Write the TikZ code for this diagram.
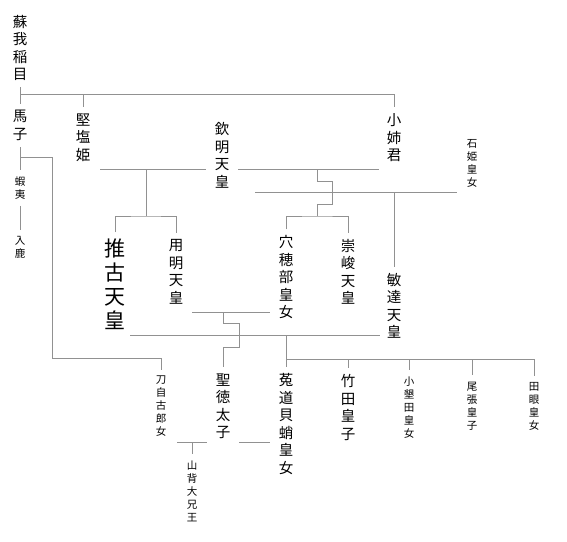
\documentclass[tikz,border=0pt]{standalone}
\usepackage{fontspec}
\usepackage{tikz}
\usetikzlibrary{backgrounds}
\newfontfamily\jp{Noto Sans CJK JP}
\definecolor{linegray}{RGB}{145,145,145}

\begin{document}
\begin{tikzpicture}[x = 1pt, y = -1pt, line width = 1pt,
                        person/.style = {align = center, inner xsep = 1pt, inner ysep = 6pt,
                                         font = \jp\fontsize{14.5}{17.5}\selectfont},
                        minor/.style = {person, font = \jp\fontsize{10.5}{13}\selectfont},
                        major/.style = {person, font = \jp\fontsize{21}{24}\selectfont},
                        masked/.style = {fill = white, inner xsep = 9pt},
                        link/.style = {draw = linegray}]
      \useasboundingbox (0, 0) rectangle (567, 541);

      % people
      \node [person] (inamo) at (20, 48){蘇\\我\\稲\\目};
      \node [person] (umako) at (20, 125.5){馬\\子};
      \node [person] (kitashi) at (83, 137.5){堅\\塩\\姫};
      \node [person, masked] (kinmei) at (222, 155.5){欽\\明\\天\\皇};
      \node [person] (oane) at (394, 138){小\\姉\\君};
      \node [minor] (ishihime) at (472, 163){石\\姫\\皇\\女};
      \node [minor] (emishi) at (20, 188){蝦\\夷};
      \node [minor] (iruka) at (20, 247){入\\鹿};
      \node [major] (suiko) at (115, 284){推\\古\\天\\皇};
      \node [person] (yomei) at (176, 272){用\\明\\天\\皇};
      \node [person] (anahobe) at (286, 277.5){穴\\穂\\部\\皇\\女};
      \node [person] (sushun) at (348, 272){崇\\峻\\天\\皇};
      \node [person] (bidatsu) at (394, 306){敏\\達\\天\\皇};
      \node [minor] (tojiko) at (161, 406.5){刀\\自\\古\\郎\\女};
      \node [person, masked] (shotoku) at (223, 406.5){聖\\徳\\太\\子};
      \node [person] (uji) at (286, 424){菟\\道\\貝\\蛸\\皇\\女};
      \node [person] (takeda) at (348, 407.5){竹\\田\\皇\\子};
      \node [minor] (oharida) at (409, 407.5){小\\墾\\田\\皇\\女};
      \node [minor] (owari) at (472, 406){尾\\張\\皇\\子};
      \node [minor] (tame) at (534, 406.5){田\\眼\\皇\\女};
      \node [minor] (yamashiro) at (192, 491){山\\背\\大\\兄\\王};

      % junctions
      \coordinate (rootbar) at (20, 94);
      \coordinate (umabr) at (20, 157);
      \coordinate (umadown) at (52, 358);
      \coordinate (wed1l) at (100, 169);
      \coordinate (wed1r) at (379, 169);
      \coordinate (kids1) at (146, 216);
      \coordinate (kids2) at (317, 216);
      \coordinate (wed2l) at (255, 192);
      \coordinate (wed2r) at (457, 192);
      \coordinate (wed3l) at (192, 312);
      \coordinate (wed3r) at (270, 312);
      \coordinate (wed4l) at (130, 335);
      \coordinate (wed4r) at (380, 335);
      \coordinate (kids4) at (286, 359);
      \coordinate (wed5l) at (177, 442);
      \coordinate (wed5r) at (270, 442);

      \begin{scope}[on background layer]
      \draw [link] (inamo) -- (umako);
      \draw [link] (rootbar) -| (kitashi.north);
      \draw [link] (rootbar) -| (oane.north);
      \draw [link] (umako) -- (emishi) -- (iruka);
      \draw [link] (umabr) -| (umadown) -| (tojiko.north);

      \draw [link] (wed1l) -- (wed1r);
      \draw [link] (kids1 |- wed1l) -- (kids1);
      \draw [link] (suiko.north) |- (kids1) -| (yomei.north);
      \draw [link] (kids2 |- wed1l) -- ++(0, 12) -- ++(15, 0) -- ++(0, 23) -- ++(-15, 0) -- (kids2);
      \draw [link] (anahobe.north) |- (kids2) -| (sushun.north);

      \draw [link] (wed2l) -- (wed2r);
      \draw [link] (bidatsu.north |- wed2l) -- (bidatsu.north);

      \draw [link] (wed3l) -- (wed3r);
      \draw [link] (shotoku.north |- wed3l) -- ++(0, 11) -- ++(16, 0) -- ++(0, 24) -- ++(-16, 0) -- (shotoku.north);

      \draw [link] (wed4l) -- (wed4r);
      \draw [link] (uji.north |- wed4l) -- (uji.north);
      \draw [link] (kids4) -| (tame.north);
      \foreach \k in {takeda, oharida, owari}
        \draw [link] (\k.north |- kids4) -- (\k.north);

      \draw [link] (wed5l) -- (wed5r);
      \draw [link] (yamashiro.north |- wed5l) -- (yamashiro.north);
      \end{scope}
      \end{tikzpicture}
\end{document}
